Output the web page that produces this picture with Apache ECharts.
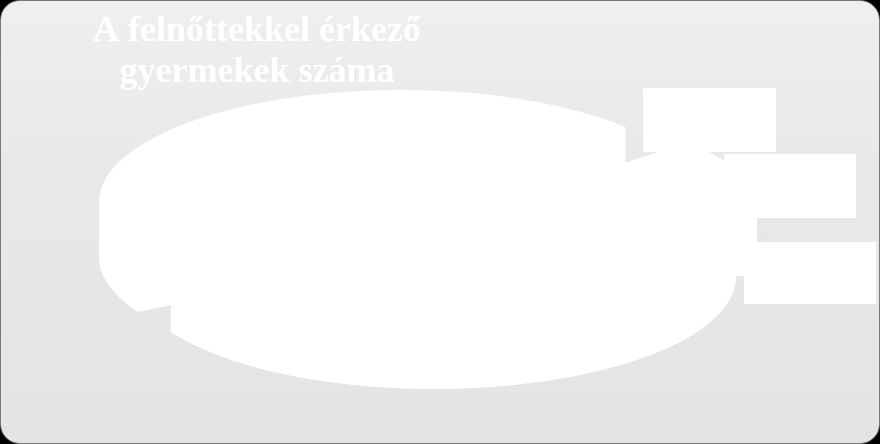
<!DOCTYPE html>
<html>
<head>
<meta charset="utf-8">
<script src="https://cdn.jsdelivr.net/npm/echarts@6/dist/echarts.min.js"></script>
<style>
html,body{margin:0;padding:0;background:#000;width:880px;height:444px;overflow:hidden;}
#frame{position:absolute;left:0;top:0;width:878px;height:442px;border:1px solid #7a7a7a;border-radius:20px;
background:linear-gradient(180deg,#efefef 0%,#e8e8e8 40%,#e4e4e4 100%);overflow:hidden;}
#chart{position:absolute;left:0;top:0;width:878px;height:442px;}
</style>
</head>
<body>
<div id="frame"><div id="chart"></div></div>
<script>
// ---- data ----
const titleLines = ['A felnőttekkel érkező', 'gyermekek száma'];
const categories = ['1 gyermek', '2 gyermek', '3 gyermek', '4 vagy több'];
const values = [46.5, 41.5, 7, 5];

// ---- layout (positions / styles only) ----
const PIE = {cx: 432, cy: 218, rx: 302, ry: 112, depth: 55, startAngle: 42};
const OFFSETS = [[-32, -17], [1, 3], [22, 0], [30, -2]];
const LABEL_BOXES = [
  {x: 250, y: 165, w: 130, h: 50},
  {x: 743, y: 241, w: 132, h: 62},
  {x: 723, y: 153, w: 132, h: 64},
  {x: 642, y: 87, w: 133, h: 64}
];

const total = values.reduce((a, b) => a + b, 0);
const angles = [];
let acc = PIE.startAngle;
values.forEach(v => { const s = acc; acc += v / total * 360; angles.push([s, acc]); });

function hull(pts) {
  pts = pts.slice().sort((a, b) => a[0] - b[0] || a[1] - b[1]);
  const cross = (o, a, b) => (a[0] - o[0]) * (b[1] - o[1]) - (a[1] - o[1]) * (b[0] - o[0]);
  const lower = [], upper = [];
  for (const p of pts) { while (lower.length >= 2 && cross(lower[lower.length - 2], lower[lower.length - 1], p) <= 0) lower.pop(); lower.push(p); }
  for (let i = pts.length - 1; i >= 0; i--) { const p = pts[i]; while (upper.length >= 2 && cross(upper[upper.length - 2], upper[upper.length - 1], p) <= 0) upper.pop(); upper.push(p); }
  upper.pop(); lower.pop();
  return lower.concat(upper);
}

function renderItem(params, api) {
  const i = params.dataIndex;
  const [a0, a1] = angles[i];
  const [ox, oy] = OFFSETS[i];
  const cx = PIE.cx + ox, cy = PIE.cy + oy;
  const pts = [[cx, cy], [cx, cy + PIE.depth]];
  const n = 60;
  for (let k = 0; k <= n; k++) {
    const a = (a0 + (a1 - a0) * k / n) * Math.PI / 180;
    const x = cx + PIE.rx * Math.cos(a), y = cy - PIE.ry * Math.sin(a);
    pts.push([x, y], [x, y + PIE.depth]);
  }
  const children = [{
    type: 'polygon',
    shape: {points: hull(pts)},
    style: {fill: '#ffffff'},
    z2: 1
  }];
  const b = LABEL_BOXES[i];
  if (b) {
    children.push({
      type: 'rect', shape: {x: b.x, y: b.y, width: b.w, height: b.h},
      style: {fill: '#ffffff'}, z2: 10
    });
    children.push({
      type: 'text', x: b.x + b.w / 2, y: b.y + b.h / 2, z2: 11,
      style: {
        text: categories[i] + '\n' + api.value(0) + '%',
        fill: '#ffffff', align: 'center', verticalAlign: 'middle',
        font: 'bold 16px "Liberation Serif", serif', lineHeight: 22
      }
    });
  }
  return {type: 'group', children: children};
}

const chart = echarts.init(document.getElementById('chart'), null, {renderer: 'canvas'});
chart.setOption({
  backgroundColor: 'transparent',
  animation: false,
  graphic: [{
    type: 'text', x: 256, y: 10, z: 100,
    style: {
      text: titleLines.join('\n'), fill: '#ffffff', align: 'center',
      font: 'bold 36px "Liberation Serif", serif', lineHeight: 41
    }
  }],
  series: [{
    type: 'custom',
    coordinateSystem: 'none',
    renderItem: renderItem,
    data: values.map((v, i) => ({name: categories[i], value: [v]})),
    silent: true
  }]
});
</script>
</body>
</html>
